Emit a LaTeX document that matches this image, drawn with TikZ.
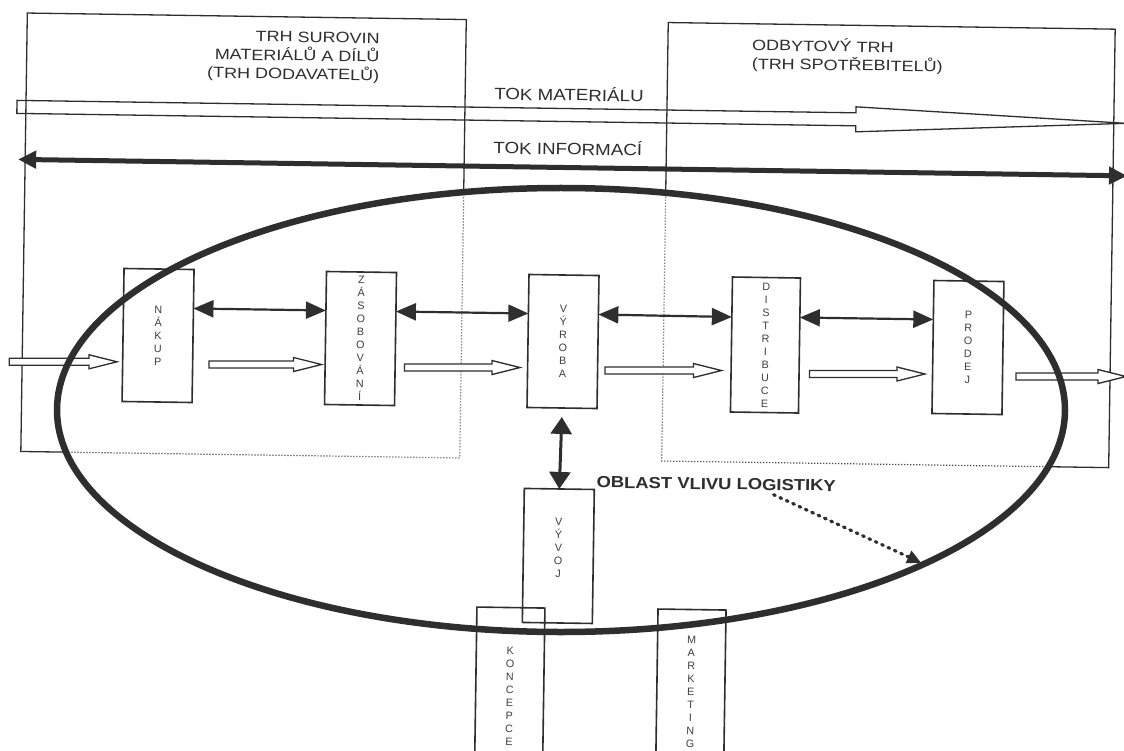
\documentclass[tikz,border=0pt]{standalone}
\usepackage{fontspec}
\setmainfont{Liberation Sans}
\newfontfamily\hdrfont[FakeStretch=1.2]{Liberation Sans}
\newfontfamily\tokfont[FakeStretch=1.15]{Liberation Sans}
\usetikzlibrary{arrows.meta,calc,shapes.geometric}

\definecolor{ink}{HTML}{2E2E2E}
\definecolor{inkgray}{HTML}{4A4A4A}
\definecolor{lettergray}{HTML}{404040}

\tikzset{
  page/.style={rotate around={-0.85:(562,375)}, transform shape},
  market/.style={draw=ink, line width=1.3pt},
  marketdots/.style={draw=inkgray, line width=1.2pt, dash pattern=on 1.2pt off 1.8pt},
  stage/.style={draw=ink, line width=1.6pt, minimum width=70pt, minimum height=133pt,
    inner sep=0pt, outer sep=0pt, align=center, text=lettergray,
    font=\fontsize{10.8}{13}\selectfont},
  stagetext/.style={inner sep=0pt, align=center, text=lettergray,
    font=\fontsize{10.8}{13}\selectfont},
  hdr/.style={inner sep=0pt, text=ink, font=\hdrfont\fontsize{15}{18.5}\selectfont},
  toklabel/.style={inner sep=0pt, text=ink, font=\tokfont\fontsize{16.3}{19}\selectfont},
  zonelabel/.style={inner sep=0pt, text=ink, font=\tokfont\bfseries\fontsize{16}{19}\selectfont},
  link/.style={draw=ink, line width=2.2pt,
    {Triangle[length=20pt,width=17pt]}-{Triangle[length=20pt,width=17pt]}},
  vlink/.style={draw=ink, line width=3pt,
    {Triangle[length=17pt,width=21pt]}-{Triangle[length=17pt,width=21pt]}},
  flowline/.style={draw=ink, fill=white, line width=1.3pt, line join=miter},
  infoline/.style={draw=ink, line width=5pt,
    {Triangle[length=18pt,width=17pt]}-{Triangle[length=18pt,width=17pt]}},
  zone/.style={ellipse, draw=ink, line width=6.5pt, minimum width=1008pt,
    minimum height=444pt, inner sep=0pt, outer sep=0pt},
  pointer/.style={draw=ink, line width=3.2pt, dash pattern=on 1.8pt off 5.2pt,
    line cap=round, shorten >=3pt, -{Triangle[length=14pt,width=13pt]}},
}

% hollow material-flow arrow from one point to another (horizontal)
\newcommand\flow[2]{%
  \draw[flowline, reset cm] let \p1=(#1), \p2=(#2) in
    (\x1,\y1+3.5pt) -- (\x2-28pt,\y1+3.5pt) -- (\x2-28pt,\y1+7pt) -- (\x2,\y1)
    -- (\x2-28pt,\y1-7pt) -- (\x2-28pt,\y1-3.5pt) -- (\x1,\y1-3.5pt) -- cycle;}

\begin{document}
\begin{tikzpicture}[x=1pt, y=-1pt]
\path[use as bounding box] (0,0) rectangle (1124,751);
\fill[white] (0,0) rectangle (1124,751);
\clip (0,0) rectangle (1124,751);

% market frames: solid outside the zone of logistics, dotted inside it
\begin{scope}[page]
  \draw[market] (22,21) rectangle (461,459.5);
  \draw[market] (663,21) rectangle (1110,459.5);
\end{scope}
\fill[white] (561,410) ellipse [x radius=504pt, y radius=222pt];
\begin{scope}
  \clip (561,410) ellipse [x radius=504pt, y radius=222pt];
  \begin{scope}[page]
    \draw[marketdots] (22,21) rectangle (461,459.5);
    \draw[marketdots] (663,21) rectangle (1110,459.5);
  \end{scope}
\end{scope}

\begin{scope}[page]
  % market headings
  \node[hdr, anchor=east, align=right] (supply) at (375,61)
    {TRH SUROVIN\\MATERIÁLŮ A DÍLŮ\\(TRH DODAVATELŮ)};
  \node[hdr, anchor=west, align=left] (sales) at (747,52)
    {ODBYTOVÝ TRH\\(TRH SPOTŘEBITELŮ)};

  % material and information flow
  \node[toklabel, anchor=base west] (tokmat) at (490,100.8) {TOK MATERIÁLU};
  \node[toklabel, anchor=base west] (tokinf) at (490,154.8) {TOK INFORMACÍ};
  \coordinate (m0) at (13,115);
  \draw[flowline, fill=none] (m0) ++(0,-6.5) -- ++(839,0) -- ++(0,-6)
    -- ++(270,12.5) -- ++(-270,12.5) -- ++(0,-6) -- ++(-839,0) -- cycle;
  \coordinate (i0) at (15,167.5);
  \coordinate (i1) at (1124,167.5);
  \draw[infoline] (i0) -- (i1);

  % chain of logistic stages
  \node[stage] (nakup) at (157.5,341.5) {N\\Á\\K\\U\\P};
  \node[stage] (zasob) at (360,341.5) {Z\\Á\\S\\O\\B\\O\\V\\Á\\N\\Í};
  \node[stage] (vyroba) at (562.5,341.5) {V\\Ý\\R\\O\\B\\A};
  \node[stage, minimum width=68pt, minimum height=135pt] (distrib) at (765,342) {D\\I\\S\\T\\R\\I\\B\\U\\C\\E};
  \node[stage] (prodej) at (967.5,341.5) {P\\R\\O\\D\\E\\J};

  \node[stage, minimum height=134pt] (vyvoj) at (561,556) {};
  \node[stagetext] (vyvojtext) at ([yshift=8pt]vyvoj.center) {V\\Ý\\V\\O\\J};
  \node[stage, minimum width=68pt, minimum height=177pt] (koncepce) at (514.4,696.8)
    {K\\O\\N\\C\\E\\P\\C\\E};
  \node[stage, minimum width=68pt, minimum height=164pt] (marketing) at (695.5,689.6)
    {M\\A\\R\\K\\E\\T\\I\\N\\G};

  \node[zonelabel, anchor=base west] (oblast) at (598,487.2) {OBLAST VLIVU LOGISTIKY};

  % information links between stages
  \draw[link] ([yshift=27.5pt]nakup.east) -- ([yshift=27.5pt]zasob.west);
  \draw[link] ([yshift=27.5pt]zasob.east) -- ([yshift=27.5pt]vyroba.west);
  \draw[link] ([yshift=27.5pt]vyroba.east) -- ([yshift=27.5pt]distrib.west);
  \draw[link] ([yshift=28pt]distrib.east) -- ([yshift=27.5pt]prodej.west);
  \draw[vlink] ([yshift=-9pt]vyroba.south) -- (vyvoj.north);

  \coordinate (fin) at (9,370);
  \coordinate (fout) at (1126,370);
\end{scope}

% material flow between stages
\flow{fin}{[xshift=-6pt,yshift=-28.5pt]nakup.west}
\flow{[xshift=16pt,yshift=-28.5pt]nakup.east}{[xshift=-4pt,yshift=-28.5pt]zasob.west}
\flow{[xshift=9pt,yshift=-28.5pt]zasob.east}{[xshift=-8pt,yshift=-28.5pt]vyroba.west}
\flow{[xshift=7pt,yshift=-28.5pt]vyroba.east}{[xshift=-10pt,yshift=-28.5pt]distrib.west}
\flow{[xshift=10pt,yshift=-28.5pt]distrib.east}{[xshift=-8pt,yshift=-28.5pt]prodej.west}
\flow{[xshift=13pt,yshift=-28.5pt]prodej.east}{fout}

% zone of logistics influence
\node[zone] (zone) at (561,410) {};
\draw[pointer] ($(oblast.south west)!0.74!(oblast.south east)+(0,4)$) -- (zone.-23);
\end{tikzpicture}
\end{document}
